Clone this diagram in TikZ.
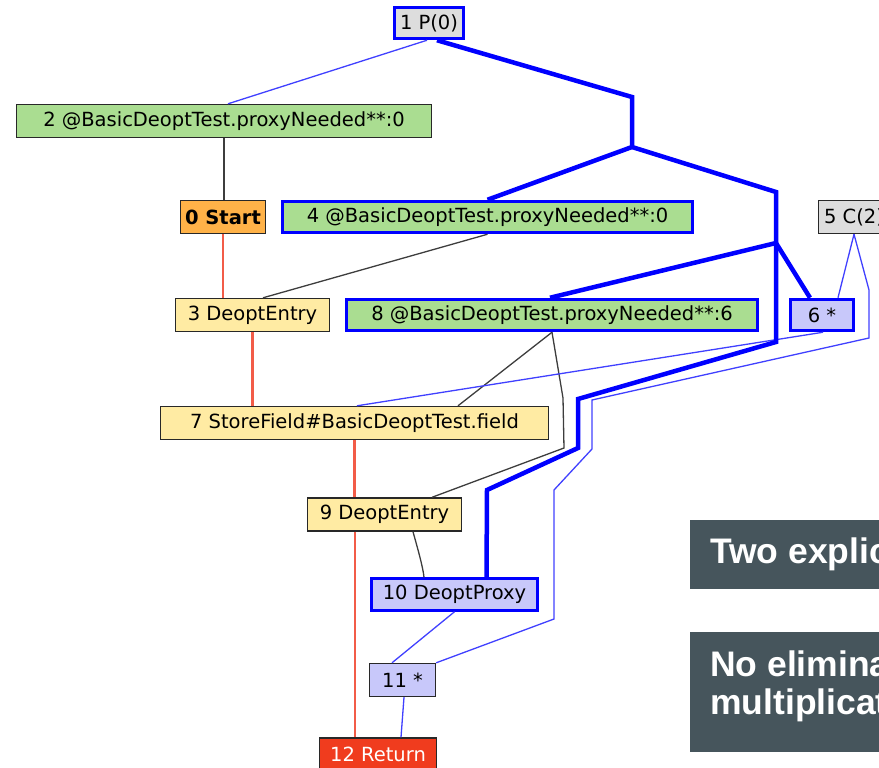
\documentclass[tikz,border=0pt]{standalone}
\usepackage{fontspec}
\setmainfont{DejaVu Sans}
\newfontfamily\slidefont{Liberation Sans}
\usetikzlibrary{calc}

\definecolor{graynode}{RGB}{221,221,221}
\definecolor{greennode}{RGB}{170,221,145}
\definecolor{orangenode}{RGB}{255,178,72}
\definecolor{yellownode}{RGB}{255,235,163}
\definecolor{violetnode}{RGB}{200,200,250}
\definecolor{rednode}{RGB}{240,60,30}
\definecolor{nodeline}{RGB}{40,40,40}
\definecolor{ctrledge}{RGB}{242,92,72}
\definecolor{dataedge}{RGB}{64,64,255}
\definecolor{slate}{RGB}{70,85,92}

\begin{document}
\begin{tikzpicture}[x=1pt,y=-1pt,
  gnode/.style={draw=nodeline, line width=1.4pt, minimum height=33pt,
    inner sep=0pt, font=\fontsize{19.5}{23}\selectfont},
  hot/.style={draw=blue, line width=3pt, minimum height=31.5pt},
  ctrl/.style={draw=ctrledge, line width=2.4pt},
  dep/.style={draw=nodeline!90, line width=1.3pt},
  data/.style={draw=dataedge, line width=1.3pt},
  wide/.style={draw=blue, line width=4.5pt, line join=miter},
  slidebox/.style={fill=slate, anchor=north west, inner sep=0pt, minimum width=260pt},
  slidetext/.style={text=white, anchor=west, inner sep=0pt, align=left,
    font=\slidefont\bfseries\fontsize{35.5}{38}\selectfont}
]
\useasboundingbox (0,0) rectangle (879,768);

% ---- graph nodes ----
\node[gnode, hot, fill=graynode, minimum width=69pt] (n1) at (429,23) {1 P(0)};
\node[gnode, fill=greennode, minimum width=415pt] (n2) at (224,121) {2 @BasicDeoptTest.proxyNeeded**:0};
\node[gnode, fill=orangenode, minimum width=85pt, font=\fontsize{19.5}{23}\selectfont\bfseries] (n0) at (223,217) {0 Start};
\node[gnode, hot, fill=greennode, minimum width=410pt] (n4) at (487.5,217) {4 @BasicDeoptTest.proxyNeeded**:0};
\node[gnode, fill=graynode, minimum width=71pt] (n5) at (854,217) {5 C(2)};
\node[gnode, fill=yellownode, minimum width=154pt] (n3) at (252.5,315) {3 DeoptEntry};
\node[gnode, hot, fill=greennode, minimum width=411pt] (n8) at (552,315) {8 @BasicDeoptTest.proxyNeeded**:6};
\node[gnode, hot, fill=violetnode, minimum width=63pt] (n6) at (822,315) {6 *};
\node[gnode, fill=yellownode, minimum width=388pt] (n7) at (354.5,423) {7 StoreField\#BasicDeoptTest.field};
\node[gnode, fill=yellownode, minimum width=154pt] (n9) at (384.5,514.5) {9 DeoptEntry};
\node[gnode, hot, fill=violetnode, minimum width=166pt] (n10) at (454.5,594.5) {10 DeoptProxy};
\node[gnode, fill=violetnode, minimum width=66pt] (n11) at (402.5,680) {11 *};
\node[gnode, fill=rednode, text=white, minimum width=117pt] (n12) at (378,754.5) {12 Return};

% ---- bend points of the routed edges ----
\coordinate (a1) at (632,97);
\coordinate (a2) at (632,147);
\coordinate (a3) at (776,192);
\coordinate (a4) at (776,243);
\coordinate (a5) at (776,342);
\coordinate (a6) at (578,399);
\coordinate (a7) at (578,448);
\coordinate (a8) at (487,490);
\coordinate (c1) at (869,290);
\coordinate (c2) at (869,338);
\coordinate (c3) at (592,400);
\coordinate (c4) at (592,449);
\coordinate (c5) at (554,490);
\coordinate (c6) at (554,619);
\coordinate (d1) at (563,398);
\coordinate (d2) at (564,448);

% ---- control flow ----
\draw[ctrl] (n0.south) -- (n0.south |- n3.north);
\draw[ctrl] (n3.south) -- (n3.south |- n7.north);
\draw[ctrl] (n7.south) -- (n7.south |- n9.north);
\draw[ctrl] ([xshift=-29.5pt]n9.south) -- ([xshift=-29.5pt]n9.south |- n12.north);

% ---- state / dependency edges ----
\draw[dep] (n2.south) -- (n2.south |- n0.north);
\draw[dep] (n4.south) -- ([xshift=10.5pt]n3.north);
\draw[dep] (n8.south) -- ([xshift=103.5pt]n7.north);
\draw[dep] (n8.south) -- (d1) -- (d2) -- ([xshift=47.5pt]n9.north);
\draw[dep] ([xshift=28.5pt]n9.south) .. controls ++(5,18) and ++(-1,-10) .. ([xshift=-30.5pt]n10.north);

% ---- data edges ----
\draw[data] ([xshift=-2pt]n1.south) -- ([xshift=4pt]n2.north);
\draw[data] (n5.south) -- ([xshift=16pt]n6.north);
\draw[data] (n5.south) -- (c1) -- (c2) -- (c3) -- (c4) -- (c5) -- (c6) -- (n11.north east);
\draw[data] ([xshift=1pt]n6.south) -- ([xshift=2.5pt]n7.north);
\draw[data] (n10.south) -- ([xshift=-10.5pt]n11.north);
\draw[data] ([xshift=1.5pt]n11.south) -- ([xshift=23pt]n12.north);

% ---- the wide parameter edge and its branches ----
\draw[wide] ([xshift=8pt]n1.south) -- (a1) -- (a2) -- (n4.north);
\draw[wide] (a2) -- (a3) -- (a4) -- ([xshift=-2pt]n8.north);
\draw[wide] (a4) -- ([xshift=-12pt]n6.north);
\draw[wide] (a4) -- (a5) -- (a6) -- (a7) -- (a8) -- ([xshift=32pt]n10.north);

% ---- note boxes ----
\node[slidebox, minimum height=69pt] (t1) at (690,520) {};
\node[slidetext] (t1text) at ($(t1.west)+(20,0)$) {Two explicit deopts};
\node[slidebox, minimum height=120pt] (t2) at (690,632) {};
\node[slidetext] (t2text) at ($(t2.west)+(20,-6)$) {No elimination of\\multiplication};
\end{tikzpicture}
\end{document}
